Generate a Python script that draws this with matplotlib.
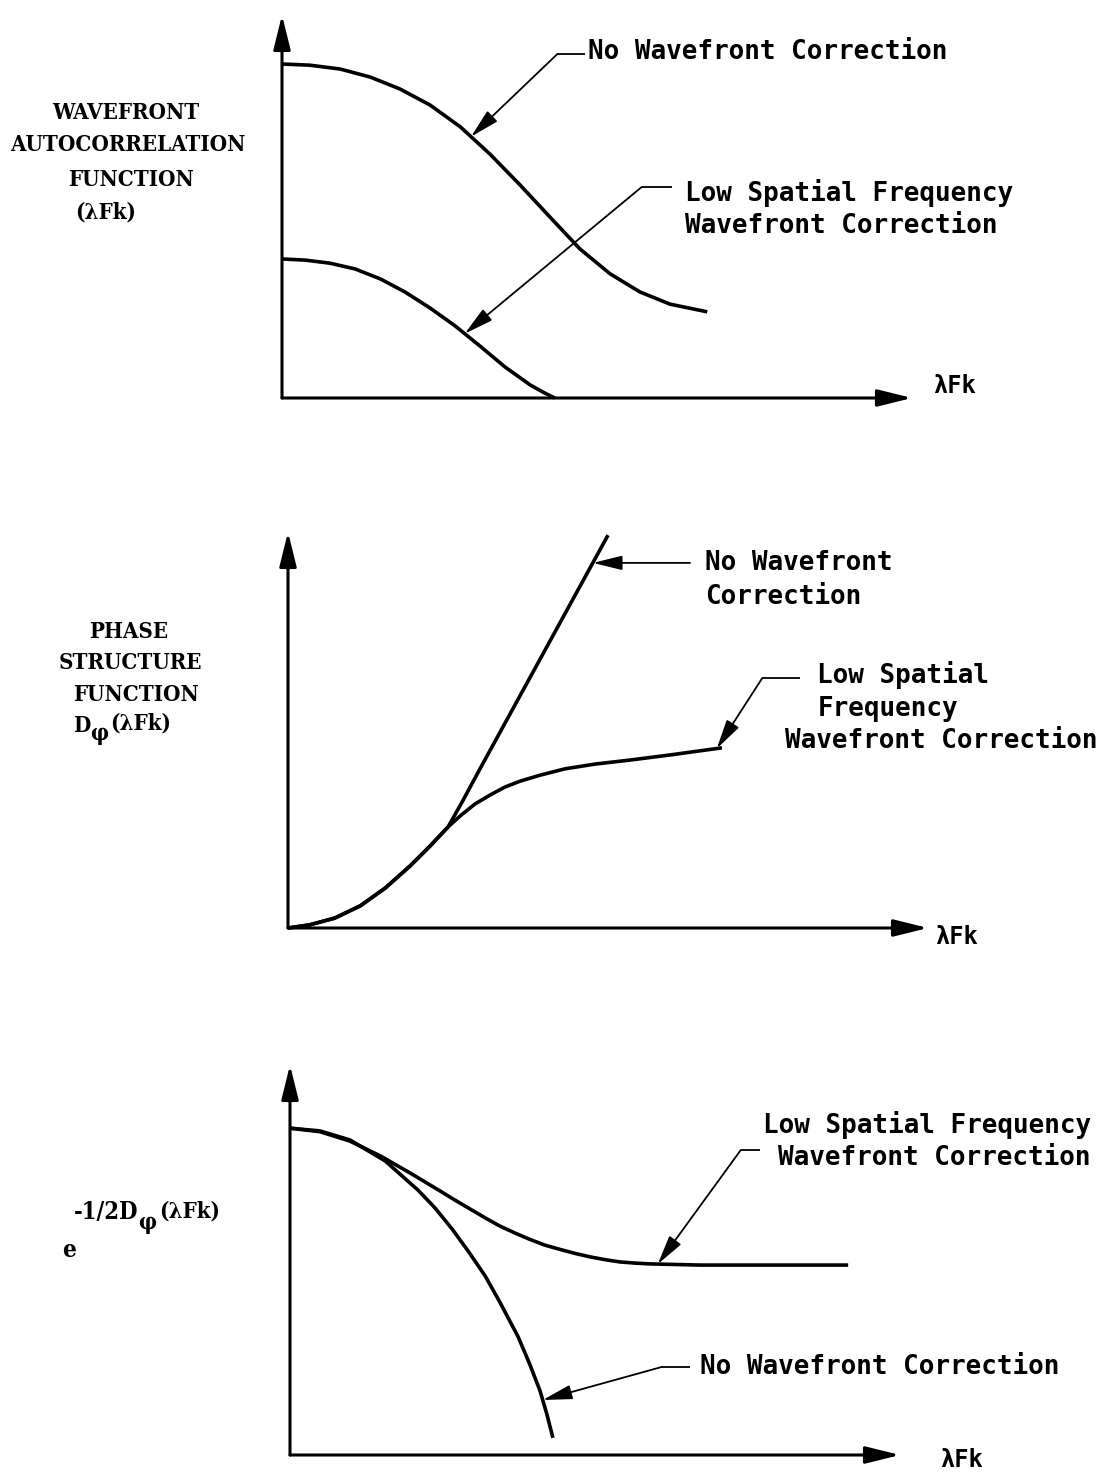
import numpy as np
import matplotlib
matplotlib.use("Agg")
import matplotlib.pyplot as plt

W, H = 1101, 1475

# ---- Panel 1: wavefront autocorrelation function vs. lambda*F*k (arbitrary units) ----
acf_x_none = [0, 0.44, 0.92, 1.40, 1.87, 2.35, 2.83, 3.30, 3.78, 4.25, 4.73, 5.21, 5.68, 6.16, 6.75]
acf_y_none = [8.72, 8.69, 8.59, 8.38, 8.07, 7.65, 7.08, 6.37, 5.56, 4.73, 3.89, 3.24, 2.77, 2.45, 2.25]
acf_x_low = [0, 0.37, 0.76, 1.16, 1.56, 1.95, 2.35, 2.75, 3.14, 3.54, 3.94, 4.17, 4.33]
acf_y_low = [3.63, 3.60, 3.52, 3.37, 3.11, 2.77, 2.35, 1.88, 1.36, 0.81, 0.34, 0.13, 0.0]

# ---- Panel 2: phase structure function ----
dphi_x_none = [0, 0.34, 0.73, 1.13, 1.52, 1.91, 2.22, 2.50, 2.72, 3.00, 5.00]
dphi_y_none = [0, 0.08, 0.25, 0.56, 1.01, 1.57, 2.07, 2.55, 3.18, 4.02, 9.92]
dphi_x_low = [0, 0.34, 0.73, 1.13, 1.52, 1.91, 2.22, 2.50, 2.69, 2.92, 3.16, 3.39, 3.63,
              3.94, 4.33, 4.80, 5.34, 5.97, 6.78]
dphi_y_low = [0, 0.08, 0.25, 0.56, 1.01, 1.57, 2.07, 2.55, 2.83, 3.13, 3.36, 3.56, 3.71,
              3.86, 4.02, 4.14, 4.24, 4.37, 4.55]

# ---- Panel 3: exp(-1/2 D_phi) ----
otf_x_none = [0, 0.49, 0.98, 1.56, 2.10, 2.38, 2.66, 2.92, 3.20, 3.44, 3.74, 3.93, 4.10, 4.21, 4.31]
otf_y_none = [8.38, 8.31, 8.08, 7.54, 6.79, 6.33, 5.79, 5.23, 4.59, 3.92, 3.03, 2.33, 1.64, 1.05, 0.44]
otf_x_low = [0, 0.49, 0.98, 1.48, 1.97, 2.46, 2.70, 2.95, 3.20, 3.44, 3.69, 3.93, 4.18, 4.43,
             4.67, 4.92, 5.16, 5.41, 5.66, 5.90, 6.72, 8.03, 9.15]
otf_y_low = [8.38, 8.29, 8.05, 7.67, 7.23, 6.77, 6.54, 6.31, 6.08, 5.87, 5.69, 5.53, 5.38, 5.27,
             5.17, 5.08, 5.01, 4.95, 4.92, 4.90, 4.87, 4.87, 4.87]

LABEL_NONE = "No Wavefront Correction"
XLABEL = "\u03bbFk"
LAM_FK = "(\u03bbFk)"
PHI = "\u03c6"

MONO = "DejaVu Sans Mono"
SERIF = "DejaVu Serif"
CURVE_LW = 2.6
AXIS_LW = 2.2
LEADER_LW = 1.3
NOTE_SIZE = 18.7
NOTE_WEIGHT = "bold"
YLAB_SIZE = 16

fig = plt.figure(figsize=(W / 100, H / 100), dpi=100)


def fx(px):
    return px / W


def fy(py):
    return 1 - py / H


def make_axes(ox, oy, tipx, tipy):
    ax = fig.add_axes([fx(ox), fy(oy), (tipx - ox) / W, (oy - tipy) / H])
    ax.set_xlim(0, 10)
    ax.set_ylim(0, 10)
    ax.axis("off")
    axis_arrow = dict(arrowstyle="-|>,head_length=1.05,head_width=0.26", lw=AXIS_LW,
                      color="black", shrinkA=0, shrinkB=0, mutation_scale=20)
    ax.annotate("", xy=(1, 0), xytext=(0, 0), xycoords="axes fraction",
                arrowprops=axis_arrow, annotation_clip=False)
    ax.annotate("", xy=(0, 1), xytext=(0, 0), xycoords="axes fraction",
                arrowprops=axis_arrow, annotation_clip=False)
    return ax


def curve(ax, xs, ys):
    ax.plot(xs, ys, color="black", lw=CURVE_LW, clip_on=False,
            solid_capstyle="butt", solid_joinstyle="round")


def pointer(ax, tip, start):
    ax.annotate("", xy=tip, xytext=start,
                arrowprops=dict(arrowstyle="-|>,head_length=0.9,head_width=0.22",
                                lw=LEADER_LW, color="black", shrinkA=0, shrinkB=0,
                                mutation_scale=20),
                annotation_clip=False)


def leader(ax, tip, elbow, end_x):
    """Callout: horizontal stub at the label, diagonal to an arrowhead on the curve."""
    ax.plot([elbow[0], end_x], [elbow[1], elbow[1]], color="black", lw=LEADER_LW,
            solid_capstyle="butt", clip_on=False)
    pointer(ax, tip, elbow)


def note(px, py, s):
    fig.text(fx(px), fy(py), s, family=MONO, fontsize=NOTE_SIZE, weight=NOTE_WEIGHT,
             ha="left", va="center")


def ylab(px, py, s, ha="center", size=YLAB_SIZE):
    return fig.text(fx(px), fy(py), s, family=SERIF, fontsize=size, weight="bold",
                    stretch="condensed", ha=ha, va="center")


def after(ax, prev, s, dx, dy, size=YLAB_SIZE):
    """Place a label piece right after a previous text piece, offset in points."""
    return ax.annotate(s, xy=(1, 0), xycoords=prev, xytext=(dx, dy),
                       textcoords="offset points", ha="left", va="bottom",
                       family=SERIF, fontsize=size, weight="bold", stretch="condensed",
                       annotation_clip=False)


def xlab(px, py):
    fig.text(fx(px), fy(py), XLABEL, family=MONO, fontsize=17, weight="bold",
             ha="left", va="center")


def on_curve(xs, ys, x):
    return (x, float(np.interp(x, xs, ys)))


# ---------------- Panel 1 ----------------
ax1 = make_axes(282, 398, 912, 15)
curve(ax1, acf_x_none, acf_y_none)
curve(ax1, acf_x_low, acf_y_low)
leader(ax1, on_curve(acf_x_none, acf_y_none, 3.0), (4.37, 8.98), 4.81)
leader(ax1, on_curve(acf_x_low, acf_y_low, 2.90), (5.71, 5.51), 6.19)
note(588, 52, LABEL_NONE)
note(685, 193, "Low Spatial Frequency")
note(685, 226, "Wavefront Correction")
xlab(933, 386)
ylab(126, 113, "WAVEFRONT")
ylab(128, 145, "AUTOCORRELATION")
ylab(131, 180, "FUNCTION")
ylab(106, 213, LAM_FK)

# ---------------- Panel 2 ----------------
ax2 = make_axes(288, 928, 928, 532)
curve(ax2, dphi_x_none, dphi_y_none)
curve(ax2, dphi_x_low, dphi_y_low)
tip_y = 9.22
tip_x = float(np.interp(tip_y, dphi_y_none, dphi_x_none))
pointer(ax2, (tip_x, tip_y), (6.28, tip_y))
leader(ax2, on_curve(dphi_x_low, dphi_y_low, 6.70), (7.41, 6.31), 8.0)
note(705, 563, "No Wavefront")
note(705, 597, "Correction")
note(817, 675, "Low Spatial")
note(818, 709, "Frequency")
note(785, 741, "Wavefront Correction")
xlab(935, 937)
ylab(129, 632, "PHASE")
ylab(130, 663, "STRUCTURE")
ylab(136, 695, "FUNCTION")
d2 = ylab(73, 726, "D", ha="left")
p2 = after(ax2, d2, PHI, 0, -6)
after(ax2, p2, LAM_FK, 1.5, 8)

# ---------------- Panel 3 ----------------
ax3 = make_axes(290, 1455, 900, 1065)
curve(ax3, otf_x_low, otf_y_low)
curve(ax3, otf_x_none, otf_y_none)
leader(ax3, on_curve(otf_x_low, otf_y_low, 6.03), (7.39, 7.82), 7.70)
nc_tip_y = 1.41
nc_tip_x = float(np.interp(nc_tip_y, otf_y_none[::-1], otf_x_none[::-1]))
leader(ax3, (nc_tip_x, nc_tip_y), (6.10, 2.26), 6.56)
note(763, 1125, "Low Spatial Frequency")
note(778, 1158, "Wavefront Correction")
note(700, 1367, LABEL_NONE)
xlab(940, 1460)
ylab(62, 1250, "e", ha="left", size=YLAB_SIZE + 1.5)
s3 = ylab(74, 1212, "-1/2D", ha="left", size=YLAB_SIZE + 1)
p3 = after(ax3, s3, PHI, 0, -7)
after(ax3, p3, LAM_FK, 1.5, 8)

fig.savefig("out.png", dpi=100, facecolor="white")
